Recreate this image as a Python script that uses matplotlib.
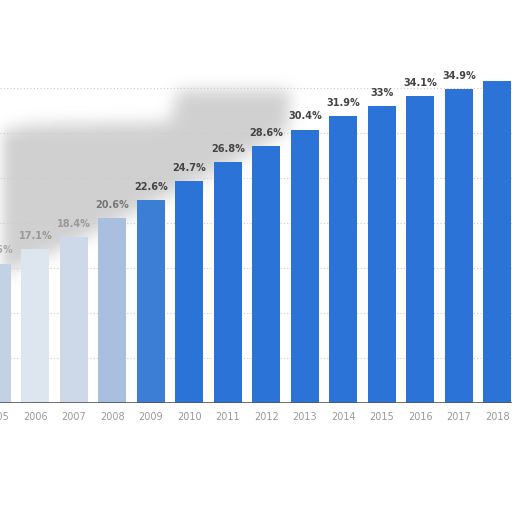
import matplotlib
matplotlib.use("Agg")
import matplotlib.pyplot as plt
import numpy as np
from matplotlib.path import Path

years = [2005, 2006, 2007, 2008, 2009, 2010, 2011, 2012, 2013, 2014, 2015, 2016, 2017, 2018]
values = [15.5, 17.1, 18.4, 20.6, 22.6, 24.7, 26.8, 28.6, 30.4, 31.9, 33.0, 34.1, 34.9, 35.8]
labels = ["15.5%", "17.1%", "18.4%", "20.6%", "22.6%", "24.7%", "26.8%", "28.6%",
          "30.4%", "31.9%", "33%", "34.1%", "34.9%", ""]
tick_labels = [str(y) for y in years]
grid_levels = [5, 10, 15, 20, 25, 30, 35]

blue = "#2b73d6"
colors = ["#c3d1e5", "#dde5ef", "#cdd8e8", "#a8bfe0", "#3c7dd5"] + [blue] * 9
label_colors = ["#aaaaaa", "#999999", "#999999", "#777777"] + ["#444444"] * 10

fig = plt.figure(figsize=(5.12, 5.12), dpi=100)
ax = fig.add_axes([0, 109 / 512, 1, 403 / 512])

# soft blurred grey haze (decoration) in the upper-left background
W, H = 512, 403
yy, xx = np.mgrid[0:H, 0:W]
poly = Path([(0, 132), (30, 125), (170, 122), (178, 90), (290, 90), (288, 130),
             (230, 165), (170, 195), (130, 215), (60, 250), (0, 275)])
mask = poly.contains_points(np.c_[xx.ravel() + 0.5, yy.ravel() + 0.5]).reshape(H, W).astype(float)
k = np.ones(15) / 15
for _ in range(3):
    mask = np.apply_along_axis(lambda r: np.convolve(r, k, mode="same"), 1, mask)
    mask = np.apply_along_axis(lambda c: np.convolve(c, k, mode="same"), 0, mask)
img = np.zeros((H, W, 4))
img[..., :3] = 0.76
img[..., 3] = mask * 0.75
ax.imshow(img, extent=[0, 1, 0, 1], transform=ax.transAxes, aspect="auto",
          zorder=0, interpolation="bilinear")

for g in grid_levels:
    ax.axhline(g, color="#cccccc", lw=0.8, ls=(0, (1, 2)), zorder=1)

ax.bar(years, values, width=0.73, color=colors, zorder=2)
for x, v, lab, lc in zip(years, values, labels, label_colors):
    ax.text(x, v + 0.9, lab, ha="center", va="bottom", fontsize=7, fontweight="bold",
            color=lc, zorder=3)

ax.axhline(0, color="#555555", lw=1.2, zorder=3)
ax.set_xticks([])
for x, t in zip(years, tick_labels):
    ax.text(x, -0.035, t, transform=ax.get_xaxis_transform(), ha="center", va="center",
            fontsize=7, color="#999999", clip_on=False)
ax.set_yticks([])
ax.set_xlim(2005.08, 2018.38)
ax.set_ylim(0, 44.8)
for s in ax.spines.values():
    s.set_visible(False)

fig.savefig("out.png", dpi=100, facecolor="white")
